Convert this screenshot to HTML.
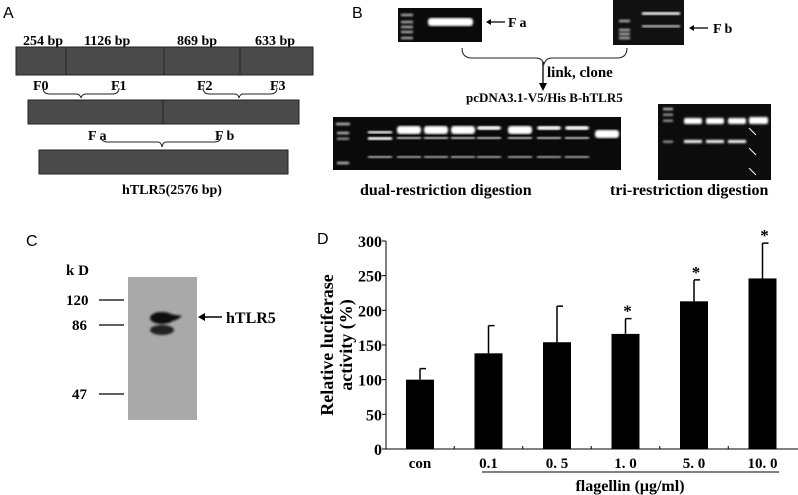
<!DOCTYPE html>
<html><head><meta charset="utf-8"><style>
body{margin:0;background:#fff;width:798px;height:495px;overflow:hidden}
svg{display:block}
.ser{font-family:"Liberation Serif",serif;font-weight:bold}
.sans{font-family:"Liberation Sans",sans-serif}
</style></head><body>
<svg id="fig" width="798" height="495" viewBox="0 0 798 495">
<defs>
<filter id="blur1"><feGaussianBlur stdDeviation="1"/></filter>
</defs>
<!-- Panel A -->
<g>
<text x="3" y="18" class="sans" font-size="16">A</text>
<g class="ser" font-size="14" font-weight="normal">
<text x="23" y="45">254 bp</text>
<text x="84" y="45">1126 bp</text>
<text x="177" y="45">869 bp</text>
<text x="255" y="45">633 bp</text>
</g>
<g fill="#4a4a4a" stroke="#222" stroke-width="1">
<rect x="16" y="47" width="297" height="28"/>
<line x1="66" y1="47" x2="66" y2="75"/><line x1="164" y1="47" x2="164" y2="75"/><line x1="240" y1="47" x2="240" y2="75"/>
<rect x="28" y="100" width="271" height="24"/>
<line x1="163" y1="100" x2="163" y2="124"/>
<rect x="39" y="150" width="249" height="24"/>
</g>
<g class="ser" font-size="14">
<text x="33" y="90">F0</text>
<text x="111" y="90">F1</text>
<text x="197" y="90">F2</text>
<text x="270" y="90">F3</text>
<text x="88" y="140">F a</text>
<text x="215" y="140">F b</text>
<text x="122" y="194" font-size="14">hTLR5(2576 bp)</text>
</g>
<g fill="none" stroke="#222" stroke-width="1">
<path d="M43,88 Q43,94 50,94 L76,94 Q80,94 81,98 Q82,94 86,94 L112,94 Q119,94 119,88"/>
<path d="M203,88 Q203,94 210,94 L235,94 Q238,94 239,98 Q240,94 243,94 L270,94 Q277,94 277,88"/>
<path d="M101,136 Q101,142 108,142 L158,142 Q161,142 162,147 Q163,142 166,142 L214,142 Q221,142 221,136"/>
</g>
</g>
<!-- Panel B -->
<g>
<text x="352" y="18" class="sans" font-size="16">B</text>
<g>
<rect x="398" y="8" width="84" height="34" fill="#0a0a0a"/>
<g fill="#ccc" filter="url(#blur1)"><rect x="401" y="14" width="12" height="2"/><rect x="401" y="21" width="12" height="2"/><rect x="401" y="26" width="12" height="2"/><rect x="401" y="31" width="12" height="2"/><rect x="401" y="37" width="12" height="2"/></g>
<rect x="428" y="18" width="45" height="8" rx="3" fill="#fff" filter="url(#blur1)"/>
</g>
<line x1="488" y1="22" x2="505" y2="22" stroke="#000" stroke-width="1.3"/><path d="M486,22 l5,-3 v6z"/>
<text x="508" y="27" class="ser" font-size="14">F a</text>
<g>
<rect x="613" y="0" width="71" height="45" fill="#111"/>
<g fill="#ccc" filter="url(#blur1)"><rect x="619" y="20" width="11" height="2"/><rect x="619" y="29" width="11" height="2"/><rect x="619" y="33" width="11" height="2"/><rect x="619" y="37" width="11" height="2"/></g>
<rect x="642" y="12" width="38" height="3" fill="#eee" filter="url(#blur1)"/>
<rect x="642" y="25" width="38" height="2.5" fill="#bbb" filter="url(#blur1)"/>
</g>
<line x1="693" y1="28" x2="708" y2="28" stroke="#000" stroke-width="1.3"/><path d="M689,28 l5,-3 v6z"/>
<text x="713" y="33" class="ser" font-size="14">F b</text>
<path d="M462,48 Q462,58 472,58 L536,58 Q542,58 544,64 Q546,58 552,58 L617,58 Q627,58 627,48" fill="none" stroke="#222"/>
<line x1="543" y1="62" x2="543" y2="84" stroke="#000" stroke-width="1.3"/><path d="M539,83 l4,8 l4,-8z"/>
<text x="547" y="77" class="ser" font-size="15">link, clone</text>
<text x="466" y="102" class="ser" font-size="13">pcDNA3.1-V5/His B-hTLR5</text>
<g>
<rect x="333" y="117" width="288" height="53" fill="#0a0a0a"/>
<g fill="#ddd" filter="url(#blur1)"><rect x="336" y="123" width="14" height="2"/><rect x="337" y="132" width="12" height="2"/><rect x="337" y="138" width="12" height="1.5"/><rect x="337" y="162" width="12" height="2"/></g>
<g id="dualLanes"></g>
</g>
<text x="360" y="195" class="ser" font-size="16">dual-restriction digestion</text>
<g>
<rect x="658" y="104" width="113" height="76" fill="#0c0c0c"/>
<g fill="#ddd" filter="url(#blur1)"><rect x="663" y="108" width="10" height="2"/><rect x="663" y="114" width="10" height="1.5"/><rect x="663" y="120" width="10" height="1.5"/><rect x="663" y="141" width="10" height="1.5"/></g>
<g fill="#fff" filter="url(#blur1)">
<rect x="684" y="118" width="18" height="6" rx="2"/><rect x="706" y="118" width="18" height="6" rx="2"/><rect x="728" y="118" width="18" height="6" rx="2"/><rect x="749" y="117" width="19" height="7" rx="2"/>
<rect x="684" y="140" width="18" height="3"/><rect x="706" y="140" width="18" height="3"/><rect x="728" y="140" width="18" height="3"/>
</g>
<g stroke="#fff" stroke-width="1"><line x1="756" y1="135" x2="749" y2="128"/><line x1="756" y1="155" x2="749" y2="148"/><line x1="756" y1="175" x2="749" y2="168"/></g>
</g>
<text x="610" y="195" class="ser" font-size="16">tri-restriction digestion</text>
</g>
<!-- Panel C -->
<g>
<text x="26" y="246" class="sans" font-size="16">C</text>
<text x="66" y="275" class="ser" font-size="15">k D</text>
<rect x="128" y="277" width="69" height="143" fill="#a9a9a9"/>
<g fill="#111" filter="url(#blur1)">
<ellipse cx="162" cy="318" rx="12" ry="6"/><path d="M156,312 Q170,314 182,316 Q176,322 160,323z"/>
<ellipse cx="162" cy="330" rx="12" ry="5" fill="#222"/>
</g>
<g class="ser" font-size="15">
<text x="66" y="305">120</text>
<text x="72" y="330">86</text>
<text x="72" y="399">47</text>
</g>
<g stroke="#000" stroke-width="1.3"><line x1="99" y1="300" x2="124" y2="300"/><line x1="99" y1="325" x2="124" y2="325"/><line x1="99" y1="394" x2="124" y2="394"/></g>
<line x1="204" y1="317" x2="222" y2="317" stroke="#000" stroke-width="1.5"/><path d="M198,317 l7,-4 v8z"/>
<text x="226" y="323" class="ser" font-size="16">hTLR5</text>
</g>
<!-- Panel D -->
<g id="chartD">
<text x="317" y="244" class="sans" font-size="16">D</text>
</g>
</svg>
<script>
const categories=["con","0.1","0. 5","1. 0","5. 0","10. 0"];
const meanValues=[100,138,154,166,213,246];
const errorTops=[116,178,206,188,244,297];
const significant=[false,false,false,true,true,true];
const yTicks=[0,50,100,150,200,250,300];
const dualTop=[1,1,1,0.6,1,0.8,0.8,1];
const NS="http://www.w3.org/2000/svg";
function mk(tag,attrs,parent){const e=document.createElementNS(NS,tag);for(const k in attrs)e.setAttribute(k,attrs[k]);parent.appendChild(e);return e;}
const dl=document.getElementById('dualLanes');
const laneX=[368,397,424,451,477,508,537,565,595];
mk('rect',{x:368,y:131,width:24,height:2.5,fill:'#fff',filter:'url(#blur1)'},dl);
mk('rect',{x:368,y:137,width:24,height:3,fill:'#fff',filter:'url(#blur1)'},dl);
mk('rect',{x:368,y:156,width:24,height:2,fill:'#ccc',filter:'url(#blur1)'},dl);
for(let i=1;i<laneX.length;i++){
  const x=laneX[i];
  if(i===8){mk('rect',{x:x,y:130,width:24,height:8,rx:3,fill:'#fff',filter:'url(#blur1)'},dl);continue;}
  mk('rect',{x:x,y:126,width:24,height:dualTop[i-1]>0.9?8:4,rx:3,fill:'#fff',filter:'url(#blur1)'},dl);
  mk('rect',{x:x,y:137,width:24,height:2,fill:'#ddd',filter:'url(#blur1)'},dl);
  mk('rect',{x:x,y:156,width:24,height:2,fill:'#bbb',filter:'url(#blur1)'},dl);
}
const g=document.getElementById('chartD');
const x0=386,x1=798,yBase=449,yTop=241,yMax=300;
const yS=v=>yBase-(v/yMax)*(yBase-yTop);
const step=68.5, first=420;
const xS=i=>first+i*step;
const bw=28;
const ax=mk('g',{},g);


mk('line',{x1:x0,y1:yTop,x2:x0,y2:yBase,stroke:'#000','stroke-width':1},ax);
mk('line',{x1:x0,y1:yBase,x2:x1,y2:yBase,stroke:'#000','stroke-width':1},ax);
yTicks.forEach(t=>{
  mk('line',{x1:x0-4,y1:yS(t),x2:x0,y2:yS(t),stroke:'#000'},ax);
  const tx=mk('text',{x:x0-4,y:yS(t)+6,'text-anchor':'end','font-size':16,class:'ser'},ax);
  tx.textContent=t;
  
  
});
for(let i=0;i<categories.length-1;i++){
  const xm=(xS(i)+xS(i+1))/2;
  mk('line',{x1:xm,y1:yBase,x2:xm,y2:yBase-3,stroke:'#000'},ax);
}
categories.forEach((c,i)=>{
  const cx=xS(i);
  const bar=mk('rect',{x:cx-bw/2,y:yS(meanValues[i]),width:bw,height:yBase-yS(meanValues[i]),fill:'#000'},g);
  
  
  const eb=mk('path',{d:`M${cx},${yS(meanValues[i])} V${yS(errorTops[i])} M${cx},${yS(errorTops[i])} H${cx+6}`,stroke:'#000','stroke-width':1.5,fill:'none'},g);
  
  
  if(significant[i]){
    const s=mk('text',{x:cx+2,y:yS(errorTops[i])-2,'text-anchor':'middle','font-size':17,class:'ser'},g);
    s.textContent='*';
    
    
  }
  const lab=mk('text',{x:cx,y:468,'text-anchor':'middle','font-size':15,class:'ser'},g);
  lab.textContent=c;
  
  
});
mk('line',{x1:482,y1:472,x2:779,y2:472,stroke:'#000'},g);
const xt=mk('text',{x:630,y:491,'text-anchor':'middle','font-size':16,class:'ser'},g);
xt.textContent='flagellin (μg/ml)';


const yt=mk('text',{transform:'translate(333,345) rotate(-90)','text-anchor':'middle','font-size':18,class:'ser'},g);
yt.textContent='Relative luciferase';


const yt2=mk('text',{transform:'translate(352,345) rotate(-90)','text-anchor':'middle','font-size':18,class:'ser'},g);
yt2.textContent='activity (%)';


</script>
</body></html>
